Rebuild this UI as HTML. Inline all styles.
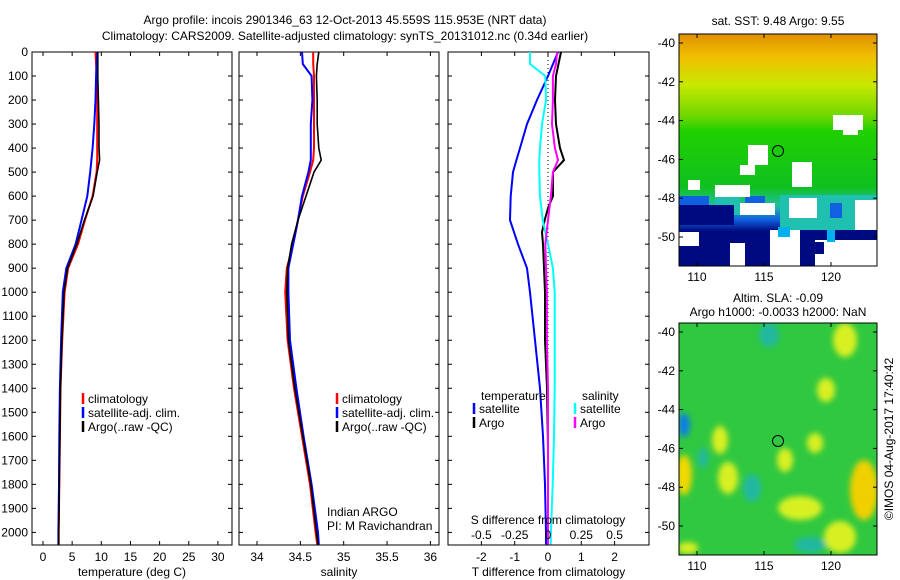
<!DOCTYPE html>
<html><head><meta charset="utf-8"><style>
body{margin:0;background:#fff;}
svg{display:block;font-family:"Liberation Sans",sans-serif;}
text{font-size:12px;fill:#000;}
</style></head><body>
<svg id="c" width="900" height="580" viewBox="0 0 900 580">
<defs>
<linearGradient id="sst" x1="0" y1="0" x2="0" y2="1">
<stop offset="0" stop-color="#e09000"/><stop offset="0.1" stop-color="#f0c000"/><stop offset="0.22" stop-color="#c8e800"/><stop offset="0.35" stop-color="#70d800"/><stop offset="0.42" stop-color="#20d000"/><stop offset="0.66" stop-color="#10c020"/><stop offset="0.74" stop-color="#20c0a0"/><stop offset="0.8" stop-color="#1060e0"/><stop offset="0.85" stop-color="#000a80"/><stop offset="1" stop-color="#000a80"/>
</linearGradient>
<filter id="bl" x="-50%" y="-50%" width="200%" height="200%"><feGaussianBlur stdDeviation="3"/></filter>
<clipPath id="m2clip"><rect x="679" y="323" width="198" height="232"/></clipPath>
</defs>
<text x="345" y="24" text-anchor="middle">Argo profile: incois 2901346_63 12-Oct-2013 45.559S 115.953E (NRT data)</text>
<text x="345" y="40" text-anchor="middle">Climatology: CARS2009. Satellite-adjusted climatology: synTS_20131012.nc (0.34d earlier)</text>
<g id="p1"></g>
<g id="p2"></g>
<g id="p3"></g>
<g>
<text x="778" y="25" text-anchor="middle">sat. SST: 9.48 Argo: 9.55</text>
<rect x="679" y="34" width="198" height="232" fill="url(#sst)"/>
<g fill="#20c0b0"><rect x="780" y="195" width="97" height="35"/><rect x="715" y="195" width="25" height="20"/></g>
<g fill="#1060e0"><rect x="679" y="196" width="30" height="12"/><rect x="745" y="196" width="20" height="15"/><rect x="830" y="203" width="12" height="15"/></g>
<g fill="#000a80"><rect x="679" y="205" width="55" height="20"/></g>
<g fill="#fff">
<rect x="833" y="115" width="30" height="15"/><rect x="843" y="125" width="15" height="10"/>
<rect x="748" y="145" width="20" height="20"/><rect x="740" y="165" width="15" height="10"/>
<rect x="792" y="162" width="20" height="25"/><rect x="715" y="185" width="35" height="12"/>
<rect x="688" y="180" width="12" height="10"/><rect x="740" y="203" width="35" height="12"/>
<rect x="679" y="232" width="20" height="14"/><rect x="730" y="243" width="15" height="23"/>
<rect x="770" y="230" width="30" height="36"/><rect x="815" y="240" width="62" height="26"/>
<rect x="789" y="198" width="28" height="20"/><rect x="855" y="200" width="22" height="30"/>
</g>
<g fill="#00b0f0"><rect x="778" y="227" width="12" height="10"/><rect x="827" y="230" width="8" height="12"/></g>
<g fill="#000a80"><rect x="808" y="242" width="16" height="12"/></g>
<rect x="679" y="34" width="198" height="232" fill="none" stroke="#000"/>
<circle cx="778" cy="151" r="5.5" fill="none" stroke="#000"/>
<g id="m1ax"></g>
</g>
<g>
<text x="778" y="302" text-anchor="middle">Altim. SLA: -0.09</text>
<text x="778" y="316" text-anchor="middle">Argo h1000: -0.0033 h2000: NaN</text>
<rect x="679" y="323" width="198" height="232" fill="#30c840"/>
<g clip-path="url(#m2clip)"><g filter="url(#bl)">
<g fill="#d8f020">
<ellipse cx="684" cy="475" rx="8" ry="20" fill="#f0d800"/><ellipse cx="720" cy="440" rx="8" ry="14"/><ellipse cx="728" cy="478" rx="10" ry="16"/>
<ellipse cx="785" cy="460" rx="8" ry="12"/><ellipse cx="815" cy="443" rx="8" ry="10"/><ellipse cx="826" cy="390" rx="9" ry="12"/>
<ellipse cx="864" cy="490" rx="14" ry="30" fill="#f0d000"/><ellipse cx="800" cy="508" rx="22" ry="12"/><ellipse cx="840" cy="537" rx="16" ry="16"/>
<ellipse cx="845" cy="340" rx="12" ry="17"/><ellipse cx="688" cy="548" rx="10" ry="6"/>
</g>
<g fill="#20b8a0"><ellipse cx="769" cy="335" rx="10" ry="12"/><ellipse cx="752" cy="488" rx="9" ry="14"/><ellipse cx="703" cy="458" rx="5" ry="10"/><ellipse cx="810" cy="545" rx="16" ry="8"/></g>
<ellipse cx="684" cy="425" rx="6" ry="12" fill="#1080e0"/>
</g></g>
<rect x="679" y="323" width="198" height="232" fill="none" stroke="#000"/>
<circle cx="778" cy="441" r="5.5" fill="none" stroke="#000"/>
<g id="m2ax"></g>
<text transform="translate(893,439) rotate(-90)" text-anchor="middle">©IMOS 04-Aug-2017 17:40:42</text>
</g>
</svg>
<script>
// depth levels (dbar)
const depths=[0,50,100,200,300,400,450,500,600,700,800,900,1000,1200,1400,1600,1800,2000,2050];
const tempClim=[9.0,9.1,9.2,9.3,9.3,9.3,9.3,9.2,8.5,7.2,6.0,4.3,3.7,3.3,3.0,2.9,2.8,2.7,2.7];
const tempSat=[9.3,9.2,9.1,9.0,8.8,8.5,8.3,8.1,7.6,6.6,5.6,4.0,3.4,3.1,2.9,2.8,2.75,2.65,2.65];
const tempArgo=[9.4,9.4,9.4,9.5,9.6,9.6,9.7,9.3,8.6,7.1,5.8,4.2,3.6,3.25,3.0,2.9,2.8,2.7,2.7];
const salClim=[34.648,34.648,34.657,34.657,34.657,34.657,34.648,34.611,34.528,34.473,34.418,34.344,34.325,34.353,34.427,34.519,34.611,34.676,34.694];
const salSat=[34.519,34.528,34.63,34.639,34.62,34.62,34.62,34.593,34.519,34.473,34.418,34.362,34.362,34.381,34.454,34.537,34.63,34.704,34.713];
const salArgo=[34.713,34.694,34.685,34.694,34.694,34.713,34.74,34.657,34.565,34.473,34.399,34.353,34.344,34.362,34.436,34.528,34.62,34.685,34.704];
const dTsat=[0.3,0.15,0,-0.33,-0.63,-0.84,-0.95,-1.05,-1.12,-1.14,-0.9,-0.63,-0.54,-0.39,-0.24,-0.15,-0.09,-0.06,-0.06];
const dTargoDepth=[0,100,200,300,400,450,500,600,650,700,750,800,1000,1200,1400,1650];
const dTargo=[0.39,0.24,0.21,0.24,0.36,0.48,0.15,0.15,0,-0.1,-0.18,-0.15,-0.09,-0.09,-0.03,0];
const dSsat=[-0.135,-0.135,-0.02,-0.015,-0.045,-0.06,-0.065,-0.065,-0.06,-0.04,0,0.037,0.05,0.05,0.05,0.045,0.035,0.022,0.02];
const dSargo=[0.068,0.06,0.037,0.037,0.03,0.052,0.075,0.037,0.022,0,-0.02,-0.015,-0.008,-0.008,0,0,0,0,0];
const depthTicks=[0,100,200,300,400,500,600,700,800,900,1000,1100,1200,1300,1400,1500,1600,1700,1800,1900,2000];
const tTicks=[0,5,10,15,20,25,30];
const sTicks=[34,34.5,35,35.5,36];
const dTTicks=[-2,-1,0,1,2];
const dSTicks=[-0.5,-0.25,0,0.25,0.5];
const lonTicks=[110,115,120];
const latTicks=[-40,-42,-44,-46,-48,-50];

const NS='http://www.w3.org/2000/svg';
const TOP=52,BOT=545;
function mk(p,tag,at){const e=document.createElementNS(NS,tag);for(const k in at)e.setAttribute(k,at[k]);p.appendChild(e);return e;}
const Y=d=>TOP+d*0.2402;
function axes(g,x0,x1,fx,ticks,xlabel,name){
  mk(g,'rect',{x:x0,y:TOP,width:x1-x0,height:BOT-TOP,fill:'none',stroke:'#000'});
  ticks.forEach(t=>{const x=fx(t);mk(g,'line',{x1:x,x2:x,y1:BOT,y2:BOT-4,stroke:'#000'});mk(g,'line',{x1:x,x2:x,y1:TOP,y2:TOP+4,stroke:'#000'});
    const tx=mk(g,'text',{x:x,y:561,'text-anchor':'middle'});tx.textContent=t;
    
    });
  depthTicks.forEach(d=>{const y=Y(d);mk(g,'line',{x1:x0,x2:x0+4,y1:y,y2:y,stroke:'#000'});mk(g,'line',{x1:x1,x2:x1-4,y1:y,y2:y,stroke:'#000'});});
  const xl=mk(g,'text',{x:(x0+x1)/2,y:576,'text-anchor':'middle'});xl.textContent=xlabel;
  
  
}
function line(g,xs,ds,fx,col,w,name){
  const pts=xs.map((v,i)=>fx(v).toFixed(1)+','+Y(ds[i]).toFixed(1)).join(' ');
  const p=mk(g,'polyline',{points:pts,fill:'none',stroke:col,'stroke-width':w});
  
  
}
function legendLine(g,x,y,col,txt){mk(g,'line',{x1:x,x2:x,y1:y-10,y2:y+1,stroke:col,'stroke-width':2.5});const t=mk(g,'text',{x:x+5,y:y});t.textContent=txt;
  
  }

// panel 1
const p1=document.getElementById('p1');
const fT=t=>43+t*5.83;
depthTicks.forEach(d=>{const t=mk(p1,'text',{x:28,y:Y(d)+4,'text-anchor':'end'});t.textContent=d;
  
  });
axes(p1,32,232,fT,tTicks,'temperature (deg C)','temperature');
line(p1,tempClim,depths,fT,'#f00',2,'temp-climatology-line');
line(p1,tempSat,depths,fT,'#00f',2,'temp-satellite-line');
line(p1,tempArgo,depths,fT,'#000',1.6,'temp-argo-line');
legendLine(p1,83,403,'#f00','climatology');legendLine(p1,83,417,'#00f','satellite-adj. clim.');legendLine(p1,83,431,'#000','Argo(..raw -QC)');

// panel 2
const p2=document.getElementById('p2');
const fS=s=>257+(s-34)*86.7;
axes(p2,239,439,fS,sTicks,'salinity','salinity');
line(p2,salClim,depths,fS,'#f00',2,'sal-climatology-line');
line(p2,salSat,depths,fS,'#00f',2,'sal-satellite-line');
line(p2,salArgo,depths,fS,'#000',1.6,'sal-argo-line');
legendLine(p2,337,403,'#f00','climatology');legendLine(p2,337,417,'#00f','satellite-adj. clim.');legendLine(p2,337,431,'#000','Argo(..raw -QC)');
[['Indian ARGO',516],['PI: M Ravichandran',530]].forEach(a=>{const t=mk(p2,'text',{x:327,y:a[1]});t.textContent=a[0];
  
  });

// panel 3
const p3=document.getElementById('p3');
const fD=v=>548+v*33.3;
const fDS=s=>548+s*133.2;
axes(p3,448,649,fD,dTTicks,'T difference from climatology','t-difference');
mk(p3,'line',{x1:548,x2:548,y1:TOP,y2:BOT,stroke:'#000','stroke-dasharray':'1,3'});
line(p3,dTsat,depths,fD,'#00f',2,'dT-satellite-line');
line(p3,dTargo,dTargoDepth,fD,'#000',2,'dT-argo-line');
line(p3,dSsat,depths,fDS,'#0ff',2,'dS-satellite-line');
line(p3,dSargo,depths,fDS,'#f0f',2,'dS-argo-line');
dSTicks.forEach(s=>{const t=mk(p3,'text',{x:fDS(s),y:539,'text-anchor':'middle'});t.textContent=s;
  
  });
{const t=mk(p3,'text',{x:548,y:524,'text-anchor':'middle'});t.textContent='S difference from climatology';
  
  }
{const t=mk(p3,'text',{x:481,y:400});t.textContent='temperature';}
{const t=mk(p3,'text',{x:582,y:400});t.textContent='salinity';}
legendLine(p3,474,413,'#00f','satellite');legendLine(p3,474,427,'#000','Argo');
legendLine(p3,575,413,'#0ff','satellite');legendLine(p3,575,427,'#f0f','Argo');

// maps axes
function mapAx(id,top,bot){
  const g=document.getElementById(id);
  const fx=l=>697+(l-110)*13.4;
  const fy=la=>top+9+(-40-la)*(bot-top-38)/10;
  lonTicks.forEach(l=>{const x=fx(l);mk(g,'line',{x1:x,x2:x,y1:bot,y2:bot-4,stroke:'#000'});mk(g,'line',{x1:x,x2:x,y1:top,y2:top+4,stroke:'#000'});
    const t=mk(g,'text',{x:x,y:bot+15,'text-anchor':'middle'});t.textContent=l;
    
    });
  latTicks.forEach(la=>{const y=fy(la);mk(g,'line',{x1:679,x2:683,y1:y,y2:y,stroke:'#000'});mk(g,'line',{x1:877,x2:873,y1:y,y2:y,stroke:'#000'});
    const t=mk(g,'text',{x:675,y:y+4,'text-anchor':'end'});t.textContent=la;
    
    });
}
mapAx('m1ax',34,266);mapAx('m2ax',323,555);
</script>
</body></html>
